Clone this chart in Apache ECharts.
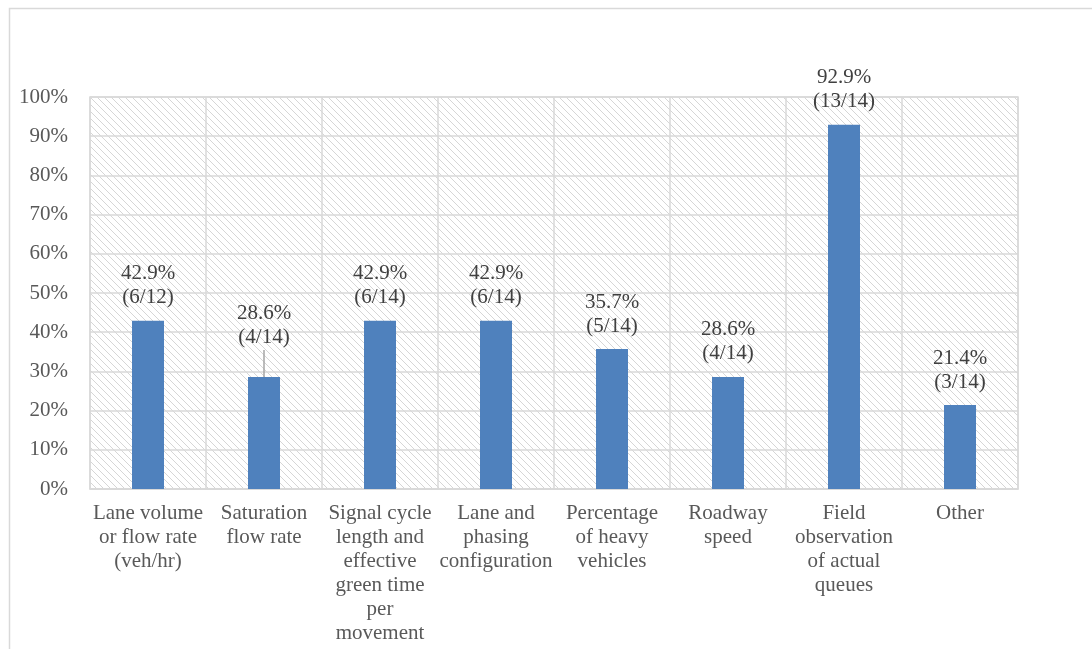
<!DOCTYPE html>
<html><head><meta charset="utf-8">
<script src="https://cdn.jsdelivr.net/npm/echarts@6/dist/echarts.min.js"></script>
<style>html,body{margin:0;padding:0;background:#fff}#c{width:1092px;height:649px}</style>
</head><body><div id="c"></div>
<script>
const categories = [
  "Lane volume\nor flow rate\n(veh/hr)",
  "Saturation\nflow rate",
  "Signal cycle\nlength and\neffective\ngreen time\nper\nmovement",
  "Lane and\nphasing\nconfiguration",
  "Percentage\nof heavy\nvehicles",
  "Roadway\nspeed",
  "Field\nobservation\nof actual\nqueues",
  "Other"
];
const values = [42.9, 28.6, 42.9, 42.9, 35.7, 28.6, 92.9, 21.4];
const fractions = ["(6/12)", "(4/14)", "(6/14)", "(6/14)", "(5/14)", "(4/14)", "(13/14)", "(3/14)"];
const yTicks = [0, 10, 20, 30, 40, 50, 60, 70, 80, 90, 100];

const P = 7;
const pc = document.createElement('canvas');
pc.width = P; pc.height = P;
const g = pc.getContext('2d');
g.fillStyle = '#ffffff'; g.fillRect(0,0,P,P);
g.strokeStyle = '#d6d6d6'; g.lineWidth = 1;
g.beginPath();
g.moveTo(-1,-1); g.lineTo(P+1,P+1);
g.moveTo(-1,P-1); g.lineTo(1,P+1);
g.moveTo(P-1,-1); g.lineTo(P+1,1);
g.stroke();

const font = '"Liberation Serif", "Times New Roman", serif';
const chart = echarts.init(document.getElementById('c'));
chart.setOption({
  animation: false,
  backgroundColor: '#ffffff',
  graphic: [{
    type: 'rect', left: 7, top: 6, z: -10,
    shape: { width: 1100, height: 700 },
    style: { fill: 'none', stroke: '#d9d9d9', lineWidth: 1.5 }
  }],
  grid: {
    left: 90, right: 74, top: 97, bottom: 160,
    show: true, backgroundColor: { image: pc, repeat: 'repeat' },
    borderColor: '#d9d9d9', borderWidth: 1.5
  },
  xAxis: {
    type: 'category', data: categories,
    axisLine: { lineStyle: { color: '#d9d9d9', width: 1.5 } },
    axisTick: { show: false },
    splitLine: { show: true, lineStyle: { color: '#d9d9d9', width: 1.5 } },
    axisLabel: { interval: 0, margin: 12, color: '#595959', fontFamily: font, fontSize: 21, lineHeight: 24 }
  },
  yAxis: {
    type: 'value', min: yTicks[0], max: yTicks[yTicks.length-1], interval: 10,
    axisLine: { show: false }, axisTick: { show: false },
    splitLine: { lineStyle: { color: '#d9d9d9', width: 1.5 } },
    axisLabel: { margin: 22, color: '#595959', fontFamily: font, fontSize: 21, formatter: v => v + '%' }
  },
  series: [{
    type: 'bar', barWidth: 32,
    itemStyle: { color: '#4f81bd' },
    data: values.map((v, i) => (i === 1 ? { value: v, labelLine: { show: true } } : { value: v })),
    label: {
      show: true, position: 'top', distance: 11,
      color: '#404040', fontFamily: font, fontSize: 21, lineHeight: 24,
      formatter: p => p.value.toFixed(1) + '%\n' + fractions[p.dataIndex]
    },
    labelLine: { show: false, lineStyle: { color: '#a6a6a6', width: 1.5 } },
    labelLayout: p => (p.dataIndex === 1 ? { dy: -16 } : {})
  }]
});
</script></body></html>
